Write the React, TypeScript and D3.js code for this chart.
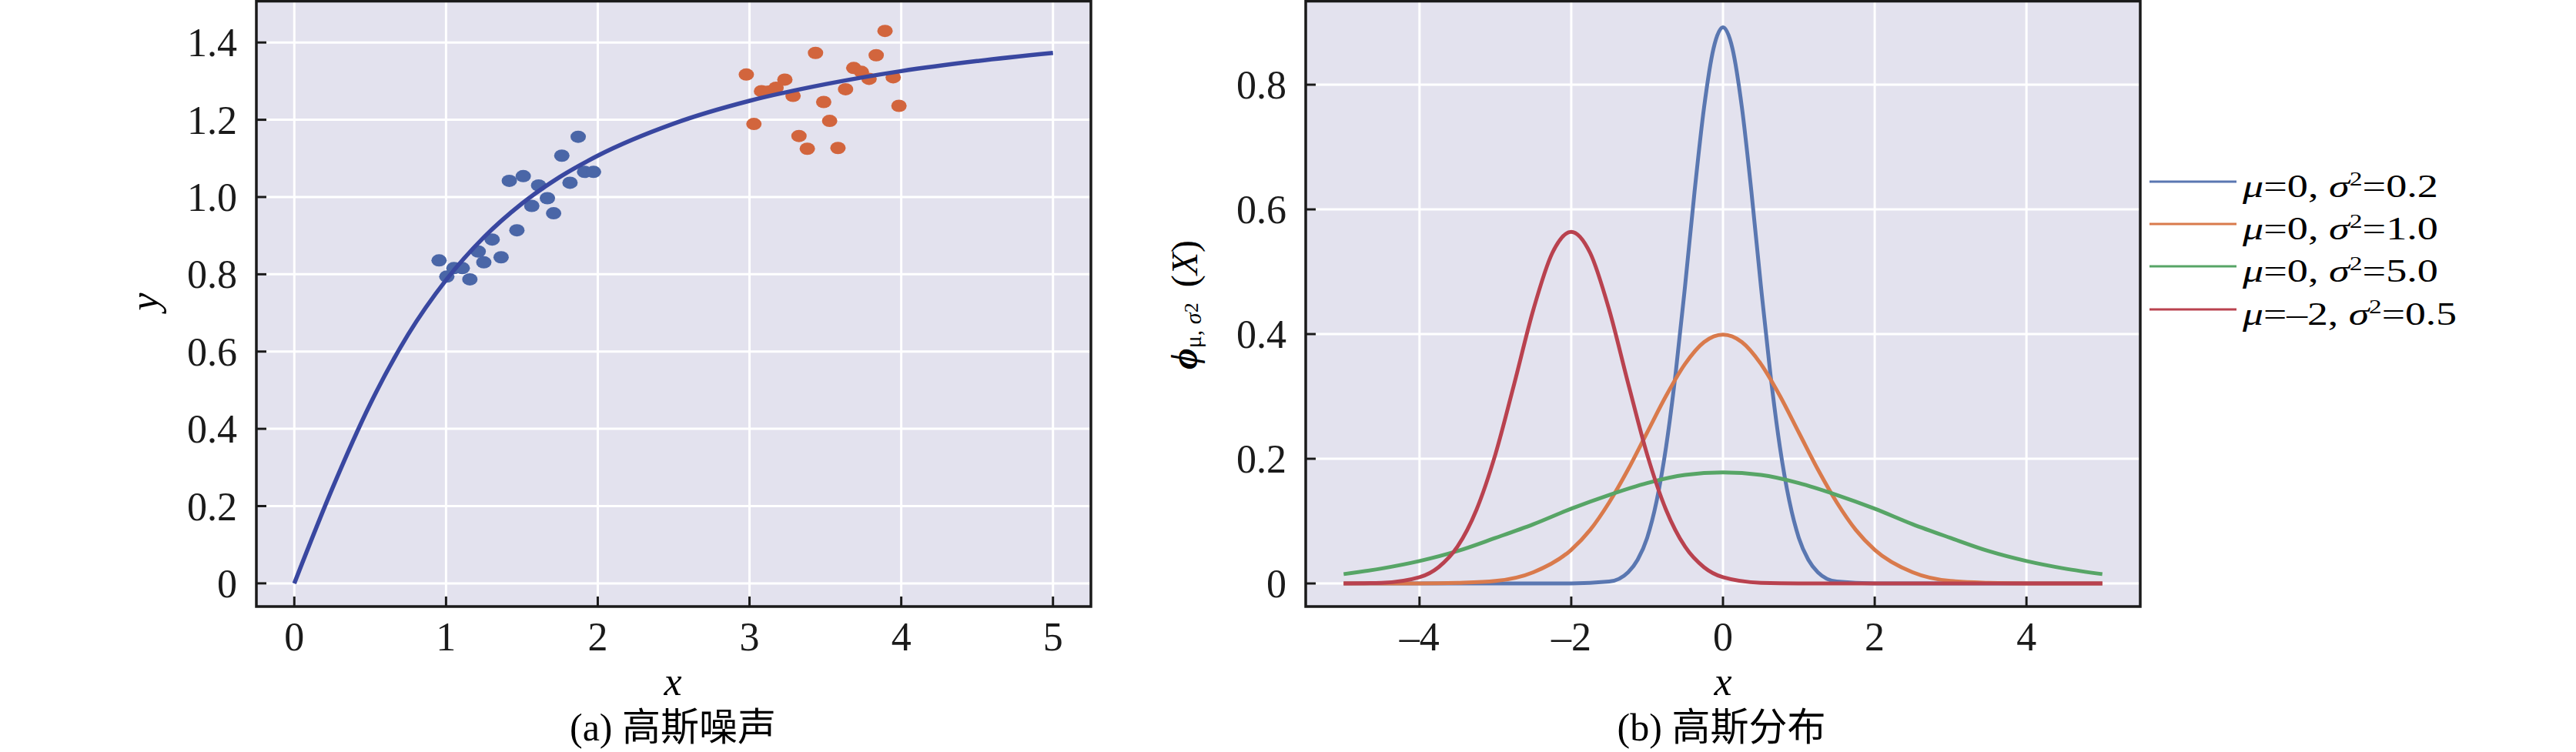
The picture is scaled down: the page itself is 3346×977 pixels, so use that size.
import * as d3 from "d3";

const W = 3346;
const H = 977;
const FONT = '"Liberation Serif", "Times New Roman", "Noto Sans CJK SC", serif';

// ---- (a) 高斯噪声 ----
const curveX = [0, 0.25, 0.5, 0.75, 1, 1.25, 1.5, 1.75, 2, 2.5, 3, 3.5, 4, 4.5, 5];
const curveY = [0, 0.245, 0.464, 0.644, 0.785, 0.896, 0.983, 1.052, 1.107, 1.19, 1.249, 1.292, 1.326, 1.352, 1.373];

const blueX = [0.954, 1.005, 1.052, 1.107, 1.157, 1.212, 1.249, 1.304, 1.363, 1.417, 1.467, 1.509, 1.565, 1.61, 1.668, 1.709, 1.763, 1.817, 1.871, 1.913, 1.972];
const blueY = [0.836, 0.794, 0.816, 0.816, 0.787, 0.859, 0.831, 0.89, 0.844, 1.042, 0.914, 1.054, 0.977, 1.03, 0.997, 0.958, 1.107, 1.037, 1.156, 1.065, 1.065];

const orangeX = [2.979, 3.029, 3.079, 3.125, 3.175, 3.233, 3.287, 3.326, 3.381, 3.435, 3.489, 3.528, 3.583, 3.633, 3.687, 3.737, 3.788, 3.835, 3.893, 3.947, 3.985];
const orangeY = [1.317, 1.189, 1.274, 1.273, 1.283, 1.304, 1.262, 1.158, 1.125, 1.373, 1.246, 1.197, 1.127, 1.279, 1.334, 1.324, 1.306, 1.367, 1.43, 1.31, 1.236];

const aXTicks = [0, 1, 2, 3, 4, 5];
const aXTickLabels = ["0", "1", "2", "3", "4", "5"];
const aYTicks = [0, 0.2, 0.4, 0.6, 0.8, 1.0, 1.2, 1.4];
const aYTickLabels = ["0", "0.2", "0.4", "0.6", "0.8", "1.0", "1.2", "1.4"];

// ---- (b) 高斯分布 ----
const gaussNarrow: [number, number][] = [
  [-5, 0], [-2, 0], [-1.5, 0.003], [-1.25, 0.018], [-1.125, 0.038], [-1, 0.073], [-0.875, 0.132],
  [-0.75, 0.219], [-0.625, 0.336], [-0.5, 0.477], [-0.375, 0.628], [-0.25, 0.763], [-0.125, 0.858],
  [0, 0.892], [0.125, 0.858], [0.25, 0.763], [0.375, 0.628], [0.5, 0.477], [0.625, 0.336],
  [0.75, 0.219], [0.875, 0.132], [1, 0.073], [1.125, 0.038], [1.25, 0.018], [1.5, 0.003], [2, 0], [5, 0],
];
const gaussStd: [number, number][] = [
  [-5, 0], [-4, 0], [-3.5, 0.001], [-3, 0.004], [-2.5, 0.018], [-2, 0.054], [-1.75, 0.086], [-1.5, 0.13],
  [-1.25, 0.183], [-1, 0.242], [-0.75, 0.301], [-0.5, 0.352], [-0.25, 0.387], [0, 0.399],
  [0.25, 0.387], [0.5, 0.352], [0.75, 0.301], [1, 0.242], [1.25, 0.183], [1.5, 0.13], [1.75, 0.086],
  [2, 0.054], [2.5, 0.018], [3, 0.004], [3.5, 0.001], [4, 0], [5, 0],
];
const gaussWide: [number, number][] = [
  [-5, 0.015], [-4.5, 0.024], [-4, 0.036], [-3.5, 0.052], [-3, 0.073], [-2.5, 0.095], [-2, 0.12],
  [-1.5, 0.142], [-1, 0.161], [-0.5, 0.174], [0, 0.178], [0.5, 0.174], [1, 0.161], [1.5, 0.142],
  [2, 0.12], [2.5, 0.095], [3, 0.073], [3.5, 0.052], [4, 0.036], [4.5, 0.024], [5, 0.015],
];
const gaussShifted: [number, number][] = [
  [-5, 0], [-4.5, 0.001], [-4, 0.01], [-3.75, 0.026], [-3.5, 0.059], [-3.25, 0.118], [-3, 0.207],
  [-2.75, 0.321], [-2.5, 0.439], [-2.25, 0.53], [-2, 0.564], [-1.75, 0.53], [-1.5, 0.439],
  [-1.25, 0.321], [-1, 0.207], [-0.75, 0.118], [-0.5, 0.059], [-0.25, 0.026], [0, 0.01],
  [0.5, 0.001], [1, 0], [5, 0],
];

const bSeries = [
  { mu: "0", sigma: "0.2", color: "#5a77b1", data: gaussNarrow },
  { mu: "0", sigma: "1.0", color: "#d97a4c", data: gaussStd },
  { mu: "0", sigma: "5.0", color: "#57a566", data: gaussWide },
  { mu: "–2", sigma: "0.5", color: "#b9424f", data: gaussShifted },
];

const bXTicks = [-4, -2, 0, 2, 4];
const bXTickLabels = ["–4", "–2", "0", "2", "4"];
const bYTicks = [0, 0.2, 0.4, 0.6, 0.8];
const bYTickLabels = ["0", "0.2", "0.4", "0.6", "0.8"];

const BG = "#e3e2ee";
const TICK_FS = 52;
const TICK_LEN = 13;

function Frame({ x, y, xTicks, yTicks, xLabels, yLabels, children }: any) {
  const [l, r] = x.range();
  const [b, t] = y.range();
  return (
    <g>
      <rect x={l} y={t} width={r - l} height={b - t} fill={BG} />
      {xTicks.map((v: number) => (
        <line key={"gx" + v} x1={x(v)} x2={x(v)} y1={t} y2={b} stroke="#fff" strokeWidth={3} />
      ))}
      {yTicks.map((v: number) => (
        <line key={"gy" + v} x1={l} x2={r} y1={y(v)} y2={y(v)} stroke="#fff" strokeWidth={3} />
      ))}
      {children}
      {/* ticks point inward */}
      {xTicks.map((v: number) => (
        <line key={"tx" + v} x1={x(v)} x2={x(v)} y1={b} y2={b - TICK_LEN} stroke="#1a1a1a" strokeWidth={3} />
      ))}
      {yTicks.map((v: number) => (
        <line key={"ty" + v} x1={l} x2={l + TICK_LEN} y1={y(v)} y2={y(v)} stroke="#1a1a1a" strokeWidth={3} />
      ))}
      <rect x={l} y={t} width={r - l} height={b - t} fill="none" stroke="#1a1a1a" strokeWidth={3.5} />
      {xTicks.map((v: number, i: number) => (
        <text key={"lx" + v} x={x(v)} y={b + 57} textAnchor="middle" fontSize={TICK_FS} fill="#1a1a1a">
          {xLabels[i]}
        </text>
      ))}
      {yTicks.map((v: number, i: number) => (
        <text key={"ly" + v} x={l - 25} y={y(v) + 18} textAnchor="end" fontSize={TICK_FS} fill="#1a1a1a">
          {yLabels[i]}
        </text>
      ))}
    </g>
  );
}

export default function App() {
  // panel (a)
  const ax = d3.scaleLinear().domain([-0.25, 5.25]).range([333, 1417]);
  const ay = d3.scaleLinear().domain([-0.06, 1.507]).range([788, 1.5]);
  const aLine = d3
    .line<number>()
    .x((_, i) => ax(curveX[i]))
    .y((d) => ay(d))
    .curve(d3.curveMonotoneX);

  // panel (b)
  const bx = d3.scaleLinear().domain([-5.5, 5.5]).range([1696, 2780]);
  const by = d3.scaleLinear().domain([-0.037, 0.934]).range([788, 1.5]);
  const bLine = d3
    .line<[number, number]>()
    .x((d) => bx(d[0]))
    .y((d) => by(d[1]))
    .curve(d3.curveMonotoneX);

  const legendRows = [236, 291, 346, 402];
  const legendWidths = [254, 254, 254, 278];

  return (
    <svg
      width={W}
      height={H}
      viewBox={`0 0 ${W} ${H}`}
      style={{ position: "absolute", left: 0, top: 0, background: "#fff" }}
      fontFamily={FONT}
    >
      <Frame x={ax} y={ay} xTicks={aXTicks} yTicks={aYTicks} xLabels={aXTickLabels} yLabels={aYTickLabels}>
        {blueX.map((v, i) => (
          <ellipse key={"b" + i} cx={ax(v)} cy={ay(blueY[i])} rx={10} ry={8} fill="#4a66a7" />
        ))}
        {orangeX.map((v, i) => (
          <ellipse key={"o" + i} cx={ax(v)} cy={ay(orangeY[i])} rx={10} ry={8} fill="#d2653d" />
        ))}
        <path d={aLine(curveY) || ""} fill="none" stroke="#3947a0" strokeWidth={5.5} />
      </Frame>
      <text x={874} y={903} textAnchor="middle" fontSize={52} fontStyle="italic">x</text>
      <text transform="translate(205,392) rotate(-90)" textAnchor="middle" fontSize={52} fontStyle="italic">y</text>
      <text x={874} y={962} textAnchor="middle" fontSize={50}>(a) 高斯噪声</text>

      <Frame x={bx} y={by} xTicks={bXTicks} yTicks={bYTicks} xLabels={bXTickLabels} yLabels={bYTickLabels}>
        {bSeries.map((s) => (
          <path key={s.sigma + s.mu} d={bLine(s.data) || ""} fill="none" stroke={s.color} strokeWidth={5} />
        ))}
      </Frame>
      <text x={2238} y={903} textAnchor="middle" fontSize={52} fontStyle="italic">x</text>
      <text x={2236} y={962} textAnchor="middle" fontSize={50}>(b) 高斯分布</text>
      <text transform="translate(1555,480) rotate(-90)" textAnchor="start" fontSize={48}>
        <tspan fontStyle="italic" fontWeight="bold">ϕ</tspan>
        <tspan fontSize={30} dy={5}>μ, </tspan>
        <tspan fontSize={30} fontStyle="italic">σ</tspan>
        <tspan fontSize={26} dy={-4}>2</tspan>
        <tspan dy={-1} dx={8}> (</tspan>
        <tspan fontStyle="italic">X</tspan>
        <tspan>)</tspan>
      </text>

      {/* legend */}
      {bSeries.map((s, i) => (
        <g key={"lg" + i}>
          <line x1={2792} x2={2905} y1={legendRows[i]} y2={legendRows[i]} stroke={s.color} strokeWidth={3} />
          <text
            x={2913}
            y={legendRows[i] + 20}
            fontSize={42}
            textLength={legendWidths[i]}
            lengthAdjust="spacingAndGlyphs"
          >
            <tspan fontStyle="italic">μ</tspan>
            <tspan>={s.mu}, </tspan>
            <tspan fontStyle="italic">σ</tspan>
            <tspan fontSize={26} dy={-15}>2</tspan>
            <tspan dy={15}>={s.sigma}</tspan>
          </text>
        </g>
      ))}
    </svg>
  );
}
